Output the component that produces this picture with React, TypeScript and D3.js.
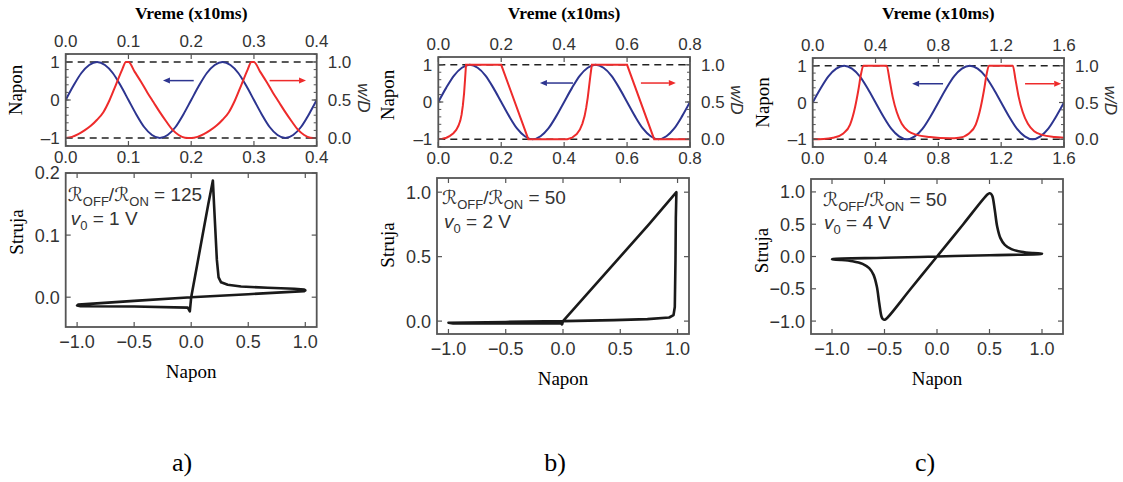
import * as d3 from 'd3';

const W = 1123;
const H = 482;

// napon (blue), 16 samples per period, two periods per panel
const naponSamples = [
  0, 0.38, 0.71, 0.92, 1, 0.92, 0.71, 0.38, 0, -0.38, -0.71, -0.92, -1, -0.92, -0.71, -0.38,
  0, 0.38, 0.71, 0.92, 1, 0.92, 0.71, 0.38, 0, -0.38, -0.71, -0.92, -1, -0.92, -0.71, -0.38, 0,
];

const timeEnd = [0.4, 0.8, 1.6];
const timeTicksA = [0, 0.1, 0.2, 0.3, 0.4];
const timeTicksB = [0, 0.2, 0.4, 0.6, 0.8];
const timeTicksC = [0, 0.4, 0.8, 1.2, 1.6];

// w/D (red)
const redTimeA = [0, 0.01, 0.02, 0.03, 0.04, 0.05, 0.06, 0.07, 0.08, 0.09, 0.096, 0.1, 0.11, 0.12, 0.13, 0.14, 0.15, 0.16, 0.17, 0.18, 0.19, 0.2,
  0.21, 0.22, 0.23, 0.24, 0.25, 0.26, 0.27, 0.28, 0.29, 0.296, 0.3, 0.31, 0.32, 0.33, 0.34, 0.35, 0.36, 0.37, 0.38, 0.39, 0.4];
const redWA = [0, 0.015, 0.05, 0.1, 0.16, 0.24, 0.34, 0.5, 0.7, 0.9, 1, 1, 0.87, 0.74, 0.6, 0.47, 0.34, 0.22, 0.11, 0.04, 0.005, 0,
  0.015, 0.05, 0.1, 0.16, 0.24, 0.34, 0.5, 0.7, 0.9, 1, 1, 0.87, 0.74, 0.6, 0.47, 0.34, 0.22, 0.11, 0.04, 0.005, 0];

const redTimeB = [0, 0.013, 0.026, 0.037, 0.048, 0.057, 0.064, 0.07, 0.074, 0.078, 0.082, 0.085, 0.087, 0.088, 0.2, 0.286,
  0.41, 0.425, 0.44, 0.45, 0.458, 0.465, 0.47, 0.475, 0.479, 0.483, 0.486, 0.488, 0.6, 0.686, 0.8];
const redWB = [0, 0.005, 0.02, 0.045, 0.08, 0.125, 0.18, 0.25, 0.33, 0.45, 0.62, 0.8, 0.93, 1, 1, 0,
  0, 0.02, 0.07, 0.13, 0.21, 0.31, 0.42, 0.56, 0.7, 0.84, 0.94, 1, 1, 0, 0];

const redTimeC = [0, 0.068, 0.13, 0.195, 0.238, 0.27, 0.29, 0.308, 0.322, 0.471, 0.49, 0.51, 0.535, 0.567, 0.609, 0.662, 0.747, 0.874,
  0.93, 0.995, 1.038, 1.07, 1.09, 1.108, 1.122, 1.274, 1.292, 1.312, 1.337, 1.37, 1.41, 1.46, 1.54, 1.6];
const redWC = [0, 0.003, 0.02, 0.08, 0.2, 0.44, 0.66, 0.89, 1, 1, 0.8, 0.57, 0.37, 0.21, 0.11, 0.06, 0.03, 0.013,
  0.02, 0.08, 0.2, 0.44, 0.66, 0.89, 1, 1, 0.8, 0.57, 0.37, 0.21, 0.11, 0.06, 0.03, 0.02];

// I-V loops
const ivVA = [0, 0.05, 0.1, 0.15, 0.185, 0.19, 0.2, 0.225, 0.24, 0.262, 0.32, 0.437, 0.67, 0.904, 0.99, 1.0, 0.99, 0.5, 0, -0.5, -0.99, -1.0, -0.97, -0.5, -0.03, -0.012, 0];
const ivIA = [0, 0.05, 0.1, 0.15, 0.183, 0.188, 0.15, 0.06, 0.032, 0.024, 0.02, 0.0173, 0.0151, 0.0135, 0.0125, 0.011, 0.0097, 0.0048, 0, -0.006, -0.012, -0.0133, -0.0146, -0.015, -0.0168, -0.0227, 0];

const ivVB = [0, 0.25, 0.5, 0.75, 0.99, 0.985, 0.982, 0.976, 0.965, 0.927, 0.737, 0.445, 0, -0.5, -1.0, -0.96, -0.43, -0.02, -0.008, 0];
const ivIB = [0, 0.25, 0.5, 0.75, 1.0, 0.8, 0.474, 0.11, 0.047, 0.028, 0.0155, 0.008, 0, -0.0065, -0.013, -0.018, -0.018, -0.0155, -0.026, 0];

const ivVC = [0, 0.25, 0.48, 0.5, 0.515, 0.528, 0.55, 0.573, 0.604, 0.646, 0.709, 0.804, 0.915, 1.0, 0.99, 0.5, 0,
  -0.5, -0.99, -1.0, -0.915, -0.804, -0.709, -0.646, -0.604, -0.573, -0.55, -0.528, -0.515, -0.5, -0.48, -0.25, 0];
const ivIC = [0, 0.5, 0.96, 0.98, 0.97, 0.933, 0.725, 0.466, 0.285, 0.181, 0.114, 0.0725, 0.052, 0.045, 0.04, 0.02, 0,
  -0.02, -0.04, -0.045, -0.052, -0.0725, -0.114, -0.181, -0.285, -0.466, -0.725, -0.933, -0.97, -0.98, -0.96, -0.5, 0];

const naponTicksTop = [-1, 0, 1];
const wdTicks = [0, 0.5, 1];
const naponTicksIV = [-1, -0.5, 0, 0.5, 1];
const strujaTicksA = [0, 0.1, 0.2];
const strujaTicksB = [0, 0.5, 1];
const strujaTicksC = [-1, -0.5, 0, 0.5, 1];

const ratios = ['125', '50', '50'];
const v0s = ['1', '2', '4'];
const panelNames = ['a)', 'b)', 'c)'];

// arrows (time from -> to), drawn at napon = arrowLevel
const blueArrows = [[0.204, 0.155], [0.428, 0.323], [0.83, 0.633]];
const redArrows = [[0.325, 0.383], [0.644, 0.755], [1.352, 1.582]];
const arrowLevel = 0.51;

const panels = [
  {
    top: { x0: 65.7, x1: 316.7, y0: 54, y1: 146 },
    bot: { x0: 65.7, x1: 316.7, y0: 173, y1: 327 },
    tTicks: timeTicksA, redT: redTimeA, redW: redWA, redCurve: d3.curveMonotoneX,
    ivV: ivVA, ivI: ivIA, ivCurve: d3.curveLinear,
    xDom: [-1.1, 1.1], yDom: [-0.048, 0.2], yTicks: strujaTicksA,
    note: { dx: 2, dy: 28, dx2: 5, dy2: 52 }, napLabelDy: -10, strujaDy: -18, labelX: 182,
  },
  {
    top: { x0: 438.3, x1: 690, y0: 57, y1: 147 },
    bot: { x0: 437, x1: 689, y0: 178, y1: 334 },
    tTicks: timeTicksB, redT: redTimeB, redW: redWB, redCurve: d3.curveLinear,
    ivV: ivVB, ivI: ivIB, ivCurve: d3.curveLinear,
    xDom: [-1.1, 1.1], yDom: [-0.1, 1.11], yTicks: strujaTicksB,
    note: { dx: 5, dy: 26, dx2: 7, dy2: 50 }, napLabelDy: -7, strujaDy: -11, labelX: 555,
  },
  {
    top: { x0: 812.7, x1: 1064, y0: 58, y1: 147 },
    bot: { x0: 811, x1: 1063, y0: 179, y1: 334 },
    tTicks: timeTicksC, redT: redTimeC, redW: redWC, redCurve: d3.curveMonotoneX,
    ivV: ivVC, ivI: ivIC, ivCurve: d3.curveCatmullRom.alpha(0.5),
    xDom: [-1.2, 1.2], yDom: [-1.2, 1.2], yTicks: strujaTicksC,
    note: { dx: 12, dy: 27, dx2: 13, dy2: 50 }, napLabelDy: 0, strujaDy: -6, labelX: 925,
  },
];

const SANS = '"Liberation Sans", Arial, Helvetica, sans-serif';
const SERIF = '"Liberation Serif", "Times New Roman", serif';
const TICK = '#333';
const FRAME = '#555';
const RED = '#ee2b2b';
const BLUE = '#2d3590';

const fmt1 = d3.format('.1f');
const dash = (s: string) => s.replace('-', '\u2013');

function Arrow({ x1, x2, y, color }: { x1: number; x2: number; y: number; color: string }) {
  const dir = Math.sign(x2 - x1);
  const head = 7;
  return (
    <g>
      <line x1={x1} x2={x2 - dir * head} y1={y} y2={y} stroke={color} strokeWidth={1.5} />
      <path d={`M${x2},${y} L${x2 - dir * head},${y - 3} L${x2 - dir * head},${y + 3} Z`} fill={color} />
    </g>
  );
}

function TopPanel({ p, i }: { p: any; i: number }) {
  const b = p.top;
  const tEnd = timeEnd[i];
  const x = d3.scaleLinear().domain([0, tEnd]).range([b.x0, b.x1]);
  const y = d3.scaleLinear().domain([-1.21, 1.21]).range([b.y1, b.y0]);
  const w = d3.scaleLinear().domain([0, 1]).range([y(-1), y(1)]);
  const blueT = naponSamples.map((_, k) => (k * tEnd) / (naponSamples.length - 1));

  const blue = d3.line<number>().x((_, k) => x(blueT[k])).y(v => y(v)).curve(d3.curveMonotoneX)(naponSamples);
  const red = d3.line<number>().x((_, k) => x(p.redT[k])).y(v => w(v)).curve(p.redCurve)(p.redW);
  const minor = d3.range(-12, 13, 2).map(v => v / 10);
  const cx = (b.x0 + b.x1) / 2;
  const cy = (b.y0 + b.y1) / 2;

  return (
    <g>
      <text x={cx} y={19} textAnchor="middle" fontFamily={SERIF} fontWeight="bold" fontSize={17.5}>Vreme (x10ms)</text>
      <defs>
        <clipPath id={`clip-top-${i}`}>
          <rect x={b.x0} y={b.y0} width={b.x1 - b.x0} height={b.y1 - b.y0} />
        </clipPath>
      </defs>
      {[y(1), y(-1)].map((yy, k) => (
        <line key={k} x1={b.x0} x2={b.x1} y1={yy} y2={yy} stroke="#222" strokeWidth={1.6} strokeDasharray="7,5" />
      ))}
      <g clipPath={`url(#clip-top-${i})`}>
        <path d={blue || ''} fill="none" stroke={BLUE} strokeWidth={2} />
        <path d={red || ''} fill="none" stroke={RED} strokeWidth={2} />
      </g>
      <Arrow x1={x(blueArrows[i][0])} x2={x(blueArrows[i][1])} y={y(arrowLevel)} color={BLUE} />
      <Arrow x1={x(redArrows[i][0])} x2={x(redArrows[i][1])} y={y(arrowLevel)} color={RED} />
      <rect x={b.x0} y={b.y0} width={b.x1 - b.x0} height={b.y1 - b.y0} fill="none" stroke={FRAME} strokeWidth={1.8} />
      {p.tTicks.map((t: number) => (
        <g key={t}>
          <line x1={x(t)} x2={x(t)} y1={b.y1} y2={b.y1 - 5} stroke={FRAME} strokeWidth={1.2} />
          <line x1={x(t)} x2={x(t)} y1={b.y0} y2={b.y0 + 5} stroke={FRAME} strokeWidth={1.2} />
          <text x={x(t)} y={b.y0 - 7} textAnchor="middle" fontFamily={SANS} fontSize={17} fill={TICK}>{fmt1(t)}</text>
          <text x={x(t)} y={b.y1 + 17} textAnchor="middle" fontFamily={SANS} fontSize={17} fill={TICK}>{fmt1(t)}</text>
        </g>
      ))}
      {minor.map(v => (
        <g key={v}>
          <line x1={b.x0} x2={b.x0 + 3} y1={y(v)} y2={y(v)} stroke={FRAME} strokeWidth={1} />
          <line x1={b.x1} x2={b.x1 - 3} y1={y(v)} y2={y(v)} stroke={FRAME} strokeWidth={1} />
        </g>
      ))}
      {naponTicksTop.map(v => (
        <g key={v}>
          <line x1={b.x0} x2={b.x0 + 5} y1={y(v)} y2={y(v)} stroke={FRAME} strokeWidth={1.2} />
          <text x={b.x0 - 6} y={y(v)} dy="0.36em" textAnchor="end" fontFamily={SANS} fontSize={17} fill={TICK}>{dash(String(v))}</text>
        </g>
      ))}
      {wdTicks.map(v => (
        <g key={v}>
          <line x1={b.x1} x2={b.x1 - 5} y1={w(v)} y2={w(v)} stroke={FRAME} strokeWidth={1.2} />
          <text x={b.x1 + 11} y={w(v)} dy="0.36em" fontFamily={SANS} fontSize={17} fill={TICK}>{fmt1(v)}</text>
        </g>
      ))}
      <text transform={`translate(${b.x0 - 44},${cy + p.napLabelDy}) rotate(-90)`} textAnchor="middle" fontFamily={SERIF} fontSize={19}>Napon</text>
      <text transform={`translate(${b.x1 + 41},${cy - 2}) rotate(90)`} textAnchor="middle" fontFamily={SANS} fontStyle="italic" fontSize={17} fill={TICK}>w/D</text>
    </g>
  );
}

function BottomPanel({ p, i }: { p: any; i: number }) {
  const b = p.bot;
  const x = d3.scaleLinear().domain(p.xDom).range([b.x0, b.x1]);
  const y = d3.scaleLinear().domain(p.yDom).range([b.y1, b.y0]);
  const loop = d3.line<number>().x((_, k) => x(p.ivV[k])).y(v => y(v)).curve(p.ivCurve)(p.ivI);
  const cx = (b.x0 + b.x1) / 2;
  const cy = (b.y0 + b.y1) / 2;
  const n = p.note;
  return (
    <g>
      <path d={loop || ''} fill="none" stroke="#1a1a1a" strokeWidth={2.6} strokeLinejoin="round" />
      <rect x={b.x0} y={b.y0} width={b.x1 - b.x0} height={b.y1 - b.y0} fill="none" stroke={FRAME} strokeWidth={1.8} />
      {naponTicksIV.map(v => (
        <g key={v}>
          <line x1={x(v)} x2={x(v)} y1={b.y1} y2={b.y1 - 5} stroke={FRAME} strokeWidth={1.2} />
          <line x1={x(v)} x2={x(v)} y1={b.y0} y2={b.y0 + 5} stroke={FRAME} strokeWidth={1.2} />
          <text x={x(v)} y={b.y1 + 21} textAnchor="middle" fontFamily={SANS} fontSize={18} fill={TICK}>{dash(fmt1(v))}</text>
        </g>
      ))}
      {p.yTicks.map((v: number) => (
        <g key={v}>
          <line x1={b.x0} x2={b.x0 + 5} y1={y(v)} y2={y(v)} stroke={FRAME} strokeWidth={1.2} />
          <line x1={b.x1} x2={b.x1 - 5} y1={y(v)} y2={y(v)} stroke={FRAME} strokeWidth={1.2} />
          <text x={b.x0 - 6} y={y(v)} dy="0.36em" textAnchor="end" fontFamily={SANS} fontSize={18} fill={TICK}>{dash(fmt1(v))}</text>
        </g>
      ))}
      <text x={b.x0 + n.dx} y={b.y0 + n.dy} fontFamily={SANS} fontSize={19} fill={TICK}>
        <tspan fontFamily="DejaVu Sans" fontStyle="italic">ℛ</tspan>
        <tspan fontSize={13} dy={5}>OFF</tspan>
        <tspan dy={-5}>/</tspan>
        <tspan fontFamily="DejaVu Sans" fontStyle="italic">ℛ</tspan>
        <tspan fontSize={13} dy={5}>ON</tspan>
        <tspan dy={-5}>{` = ${ratios[i]}`}</tspan>
      </text>
      <text x={b.x0 + n.dx2} y={b.y0 + n.dy2} fontFamily={SANS} fontSize={19} fill={TICK}>
        <tspan fontStyle="italic">v</tspan>
        <tspan fontSize={13} dy={5}>0</tspan>
        <tspan dy={-5}>{` = ${v0s[i]} V`}</tspan>
      </text>
      <text transform={`translate(${b.x0 - 43},${cy + p.strujaDy}) rotate(-90)`} textAnchor="middle" fontFamily={SERIF} fontSize={19}>Struja</text>
      <text x={cx} y={b.y1 + 51} textAnchor="middle" fontFamily={SERIF} fontSize={19}>Napon</text>
      <text x={p.labelX} y={471} textAnchor="middle" fontFamily={SERIF} fontSize={26}>{panelNames[i]}</text>
    </g>
  );
}

export default function App() {
  return (
    <div style={{ position: 'absolute', left: 0, top: 0, width: W, height: H, background: '#fff' }}>
      <svg width={W} height={H} style={{ display: 'block' }}>
        <rect width={W} height={H} fill="#fff" />
        {panels.map((p, i) => (
          <g key={i}>
            <TopPanel p={p} i={i} />
            <BottomPanel p={p} i={i} />
          </g>
        ))}
      </svg>
    </div>
  );
}
